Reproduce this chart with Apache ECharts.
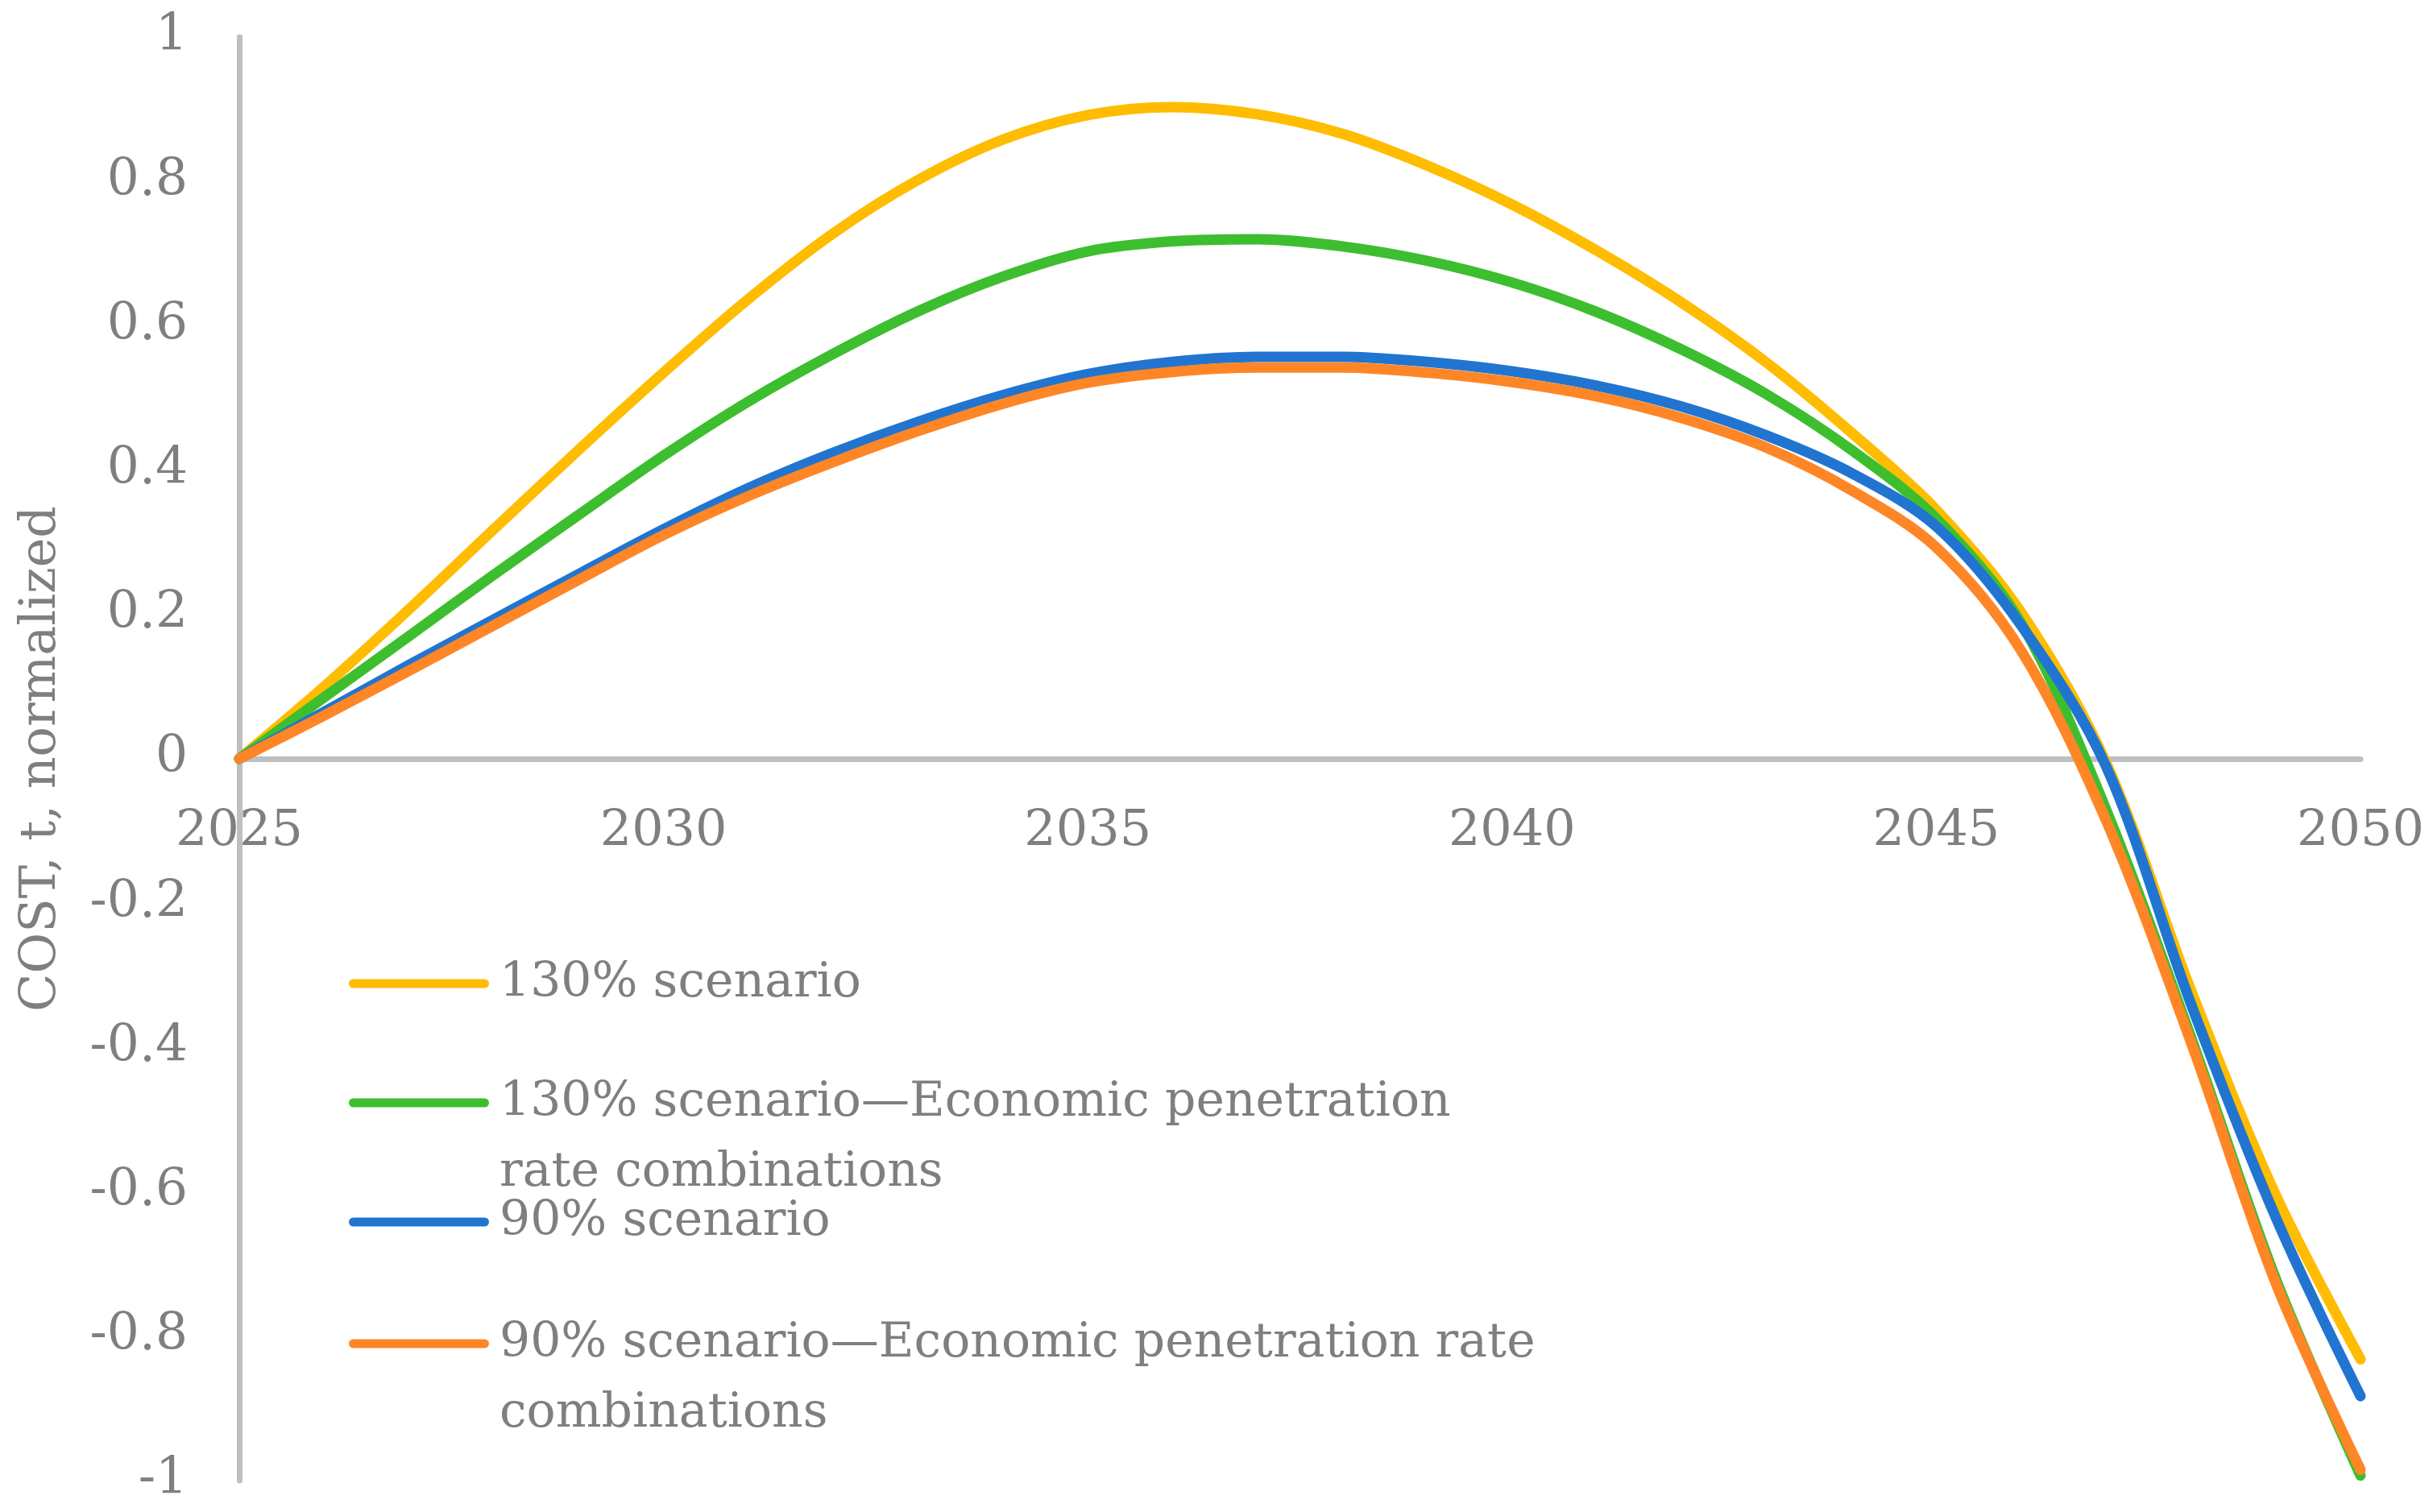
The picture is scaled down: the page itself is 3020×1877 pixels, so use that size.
<!DOCTYPE html>
<html>
<head>
<meta charset="utf-8">
<script src="https://cdn.jsdelivr.net/npm/echarts@6/dist/echarts.min.js"></script>
<style>
html,body{margin:0;padding:0;background:#fff;}
#chart{width:3020px;height:1877px;}
</style>
</head>
<body>
<div id="chart"></div>
<script>
const years = [2025,2026,2027,2028,2029,2030,2031,2032,2033,2034,2035,2036,2037,2038,2039,2040,2041,2042,2043,2044,2045,2046,2047,2048,2049,2050];
const s130 = [0,0.100,0.207,0.318,0.428,0.535,0.637,0.728,0.802,0.858,0.892,0.903,0.893,0.866,0.822,0.768,0.704,0.632,0.549,0.452,0.345,0.203,-0.005,-0.320,-0.604,-0.832];
const s130e = [0,0.085,0.170,0.255,0.338,0.420,0.495,0.561,0.620,0.668,0.703,0.717,0.720,0.710,0.690,0.660,0.619,0.567,0.505,0.428,0.333,0.188,-0.070,-0.385,-0.720,-0.993];
const s90 = [0,0.065,0.130,0.193,0.256,0.318,0.375,0.424,0.467,0.504,0.533,0.550,0.557,0.557,0.550,0.537,0.517,0.488,0.448,0.396,0.322,0.185,-0.010,-0.339,-0.635,-0.883];
const s90e = [0,0.060,0.122,0.185,0.248,0.310,0.364,0.411,0.454,0.492,0.521,0.536,0.542,0.542,0.535,0.522,0.502,0.472,0.431,0.372,0.293,0.150,-0.085,-0.392,-0.726,-0.985];
const seriesNames = ['130% scenario','130% scenario\u2014Economic penetration rate combinations','90% scenario','90% scenario\u2014Economic penetration rate combinations'];
const legendLabels = ['130% scenario','\n130% scenario\u2014Economic penetration\nrate combinations','90% scenario','\n90% scenario\u2014Economic penetration rate\ncombinations'];
const colors = ['#FFBC00','#3DBE2F','#2175D0','#FF8626'];
const seriesValues = [s130, s130e, s90, s90e];
const yTicks = {min:-1, max:1, interval:0.2};
const xTicks = {min:2025, max:2050, interval:5};

const font = 'DejaVu Serif';
const gray = '#7F7F7F';
const legendCenters = [1221, 1369, 1517, 1668];
const gridTop = 46, gridBottom = 39, H = 1877;
const gridHeight = H - gridTop - gridBottom;

const chart = echarts.init(document.getElementById('chart'));
const legends = seriesNames.map((n, i) => {
  const lines = legendLabels[i].split('\n').length;
  const boxH = 87 * lines;
  return {
    data: [n],
    left: 433,
    top: legendCenters[i] - boxH / 2,
    padding: 0,
    orient: 'vertical',
    selectedMode: false,
    itemWidth: 174,
    itemHeight: 11,
    icon: 'path://M5.5,0 L168.5,0 A5.5,5.5 0 0 1 168.5,11 L5.5,11 A5.5,5.5 0 0 1 5.5,0 Z',
    itemStyle: {borderWidth: 0},
    formatter: () => legendLabels[i],
    textStyle: {
      fontFamily: font, fontSize: 60, color: gray, lineHeight: 87,
      padding: [0, 0, 0, 8]
    }
  };
});

chart.setOption({
  backgroundColor: '#fff',
  animation: false,
  color: colors,
  grid: {left: 297, right: 90, top: gridTop, bottom: gridBottom, containLabel: false, outerBoundsMode: 'none'},
  legend: legends,
  xAxis: {
    type: 'value', min: xTicks.min, max: xTicks.max, interval: xTicks.interval,
    position: 'bottom',
    offset: -gridHeight / 2,
    axisLine: {show: true, onZero: false, lineStyle: {color: '#BFBFBF', width: 7}},
    axisTick: {show: false},
    splitLine: {show: false},
    axisLabel: {fontFamily: font, fontSize: 62, color: gray, margin: 60, formatter: v => String(v)}
  },
  yAxis: {
    type: 'value', min: yTicks.min, max: yTicks.max, interval: yTicks.interval,
    name: 'COST, t, normalized', nameLocation: 'middle', nameGap: 214,
    nameTextStyle: {fontFamily: font, fontSize: 62, color: gray},
    axisLine: {show: true, onZero: false, lineStyle: {color: '#BFBFBF', width: 7}},
    axisTick: {show: false},
    splitLine: {show: false},
    axisLabel: {fontFamily: font, fontSize: 63, color: gray, margin: 64}
  },
  series: seriesNames.map((n, i) => ({
    name: n,
    type: 'line',
    smooth: 0.33,
    symbol: 'none',
    data: years.map((y, k) => [y, seriesValues[i][k]]),
    lineStyle: {width: 13, color: colors[i], cap: 'round', join: 'round'},
    itemStyle: {color: colors[i]}
  }))
});
</script>
</body>
</html>
